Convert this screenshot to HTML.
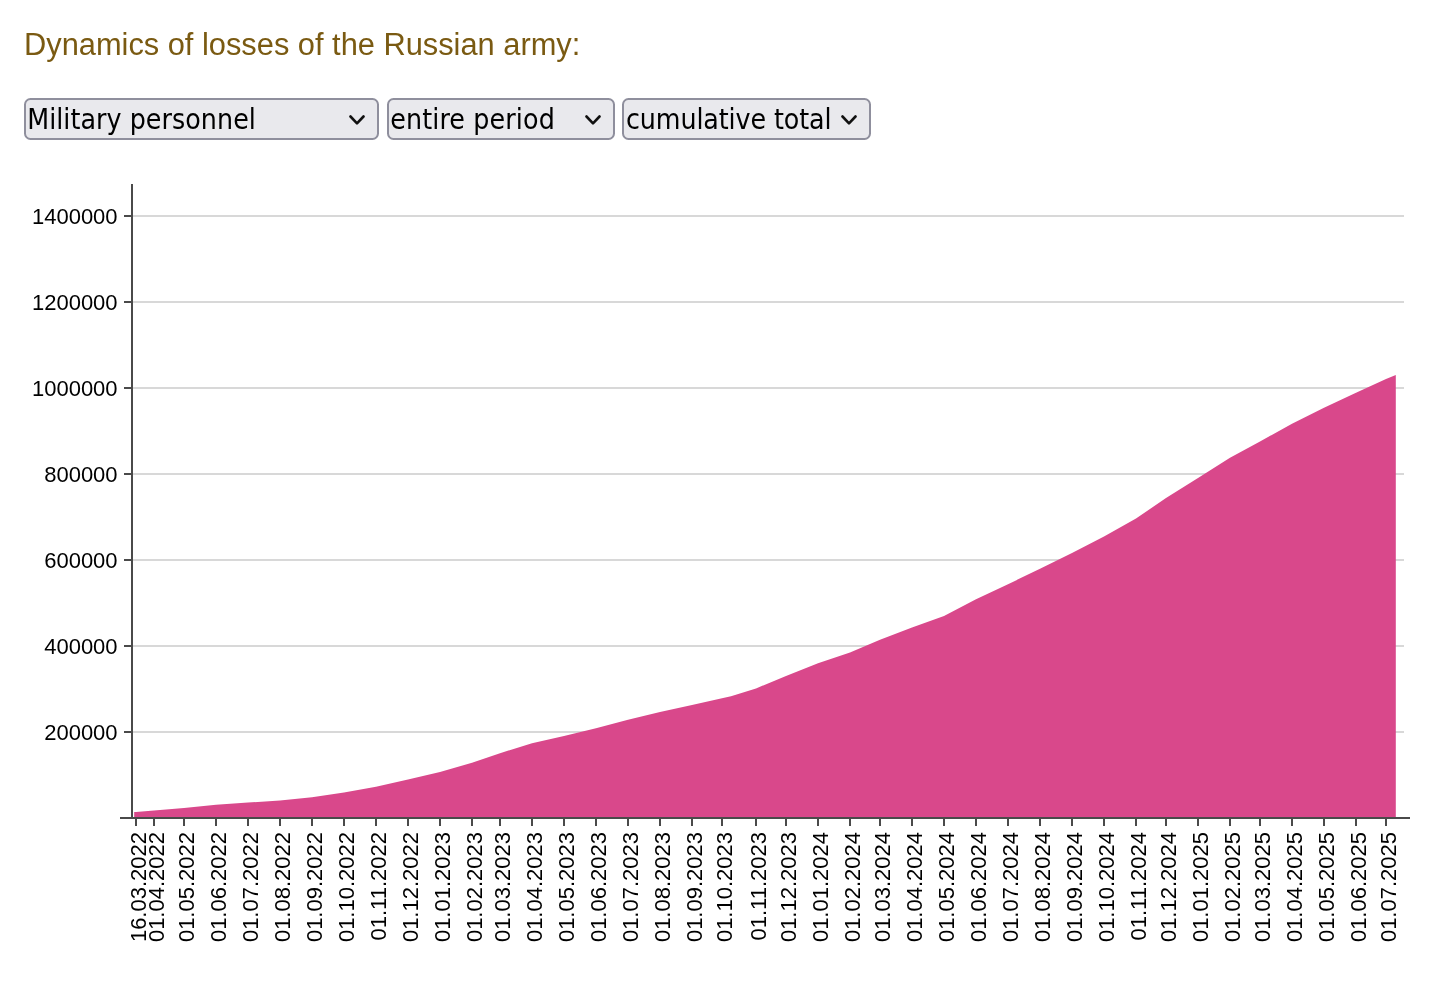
<!DOCTYPE html>
<html lang="en"><head><meta charset="utf-8"><title>Dynamics of losses of the Russian army</title>
<style>
html,body{margin:0;padding:0;background:#fff;}
body{width:1435px;height:987px;position:relative;overflow:hidden;font-family:"Liberation Sans",Arial,sans-serif;}
h2{position:absolute;left:24px;top:27.8px;margin:0;font-weight:normal;font-size:30.8px;line-height:34px;color:#7a5a12;white-space:nowrap;}
.sel{position:absolute;top:98px;height:42px;}
.sel select{display:block;width:100%;height:42px;box-sizing:border-box;margin:0;padding:1px 0 0 1.2px;-webkit-appearance:none;appearance:none;outline:none;
 border:2px solid #8f8f9d;border-radius:6.5px;background:#e9e9ed;color:#000;
 font-family:"DejaVu Sans Condensed","DejaVu Sans","Liberation Sans",sans-serif;font-stretch:condensed;font-size:28.2px;line-height:38px;white-space:nowrap;}
.sel svg{position:absolute;top:17px;width:16px;height:10px;pointer-events:none;}
svg.chart{position:absolute;left:0;top:0;}
svg.chart text{font-family:"Liberation Sans",Arial,sans-serif;font-size:22px;fill:#000;}
</style></head><body>
<h2>Dynamics of losses of the Russian army:</h2>
<div class="sel" style="left:24px;width:355px;"><select style="letter-spacing:0.06px"><option selected>Military personnel</option></select><svg style="left:324.7px" viewBox="0 0 16 10"><path d="M1.5 1.5 L8 8.3 L14.5 1.5" fill="none" stroke="#111" stroke-width="2.6" stroke-linecap="round" stroke-linejoin="round"/></svg></div>
<div class="sel" style="left:387px;width:228px;"><select style="letter-spacing:0.14px"><option selected>entire period</option></select><svg style="left:198px" viewBox="0 0 16 10"><path d="M1.5 1.5 L8 8.3 L14.5 1.5" fill="none" stroke="#111" stroke-width="2.6" stroke-linecap="round" stroke-linejoin="round"/></svg></div>
<div class="sel" style="left:622px;width:248.6px;"><select style="letter-spacing:-0.1px;padding-left:2px"><option selected>cumulative total</option></select><svg style="left:219.1px" viewBox="0 0 16 10"><path d="M1.5 1.5 L8 8.3 L14.5 1.5" fill="none" stroke="#111" stroke-width="2.6" stroke-linecap="round" stroke-linejoin="round"/></svg></div>
<svg class="chart" width="1435" height="987" viewBox="0 0 1435 987">
<g stroke="#d8d8d8" stroke-width="2"><line x1="132" x2="1404" y1="732.0" y2="732.0"/><line x1="132" x2="1404" y1="646.0" y2="646.0"/><line x1="132" x2="1404" y1="560.0" y2="560.0"/><line x1="132" x2="1404" y1="474.0" y2="474.0"/><line x1="132" x2="1404" y1="388.0" y2="388.0"/><line x1="132" x2="1404" y1="302.0" y2="302.0"/><line x1="132" x2="1404" y1="216.0" y2="216.0"/></g>
<path d="M134.2,818.0 L134.2,812.1 L136.0,812.1 L154.0,810.4 L184.0,807.9 L216.0,804.8 L248.0,802.6 L280.0,800.4 L312.0,797.2 L344.0,792.4 L376.0,786.8 L408.0,779.5 L440.0,772.1 L472.0,762.8 L500.0,753.2 L532.0,743.2 L564.0,735.9 L596.0,728.2 L628.0,719.8 L660.0,711.9 L692.0,704.9 L722.0,698.2 L731.0,696.2 L756.0,688.4 L786.0,676.1 L818.0,663.2 L850.0,652.4 L880.0,639.7 L912.0,627.6 L944.0,616.0 L976.0,599.2 L1008.0,584.2 L1040.0,568.8 L1072.0,553.0 L1104.0,536.6 L1136.0,518.5 L1166.0,498.1 L1198.0,478.0 L1230.0,457.8 L1260.0,441.5 L1292.0,423.7 L1324.0,407.8 L1356.0,392.7 L1386.0,379.0 L1395.8,374.9 L1395.8,818.0 Z" fill="#d9488b"/>
<g stroke="#4a4a4a" stroke-width="2" fill="none"><line x1="132" x2="132" y1="184" y2="818"/><line x1="120" x2="1410" y1="818" y2="818"/><line x1="124" x2="132" y1="732.0" y2="732.0"/><line x1="124" x2="132" y1="646.0" y2="646.0"/><line x1="124" x2="132" y1="560.0" y2="560.0"/><line x1="124" x2="132" y1="474.0" y2="474.0"/><line x1="124" x2="132" y1="388.0" y2="388.0"/><line x1="124" x2="132" y1="302.0" y2="302.0"/><line x1="124" x2="132" y1="216.0" y2="216.0"/><line x1="136" x2="136" y1="818" y2="826"/><line x1="154" x2="154" y1="818" y2="826"/><line x1="184" x2="184" y1="818" y2="826"/><line x1="216" x2="216" y1="818" y2="826"/><line x1="248" x2="248" y1="818" y2="826"/><line x1="280" x2="280" y1="818" y2="826"/><line x1="312" x2="312" y1="818" y2="826"/><line x1="344" x2="344" y1="818" y2="826"/><line x1="376" x2="376" y1="818" y2="826"/><line x1="408" x2="408" y1="818" y2="826"/><line x1="440" x2="440" y1="818" y2="826"/><line x1="472" x2="472" y1="818" y2="826"/><line x1="500" x2="500" y1="818" y2="826"/><line x1="532" x2="532" y1="818" y2="826"/><line x1="564" x2="564" y1="818" y2="826"/><line x1="596" x2="596" y1="818" y2="826"/><line x1="628" x2="628" y1="818" y2="826"/><line x1="660" x2="660" y1="818" y2="826"/><line x1="692" x2="692" y1="818" y2="826"/><line x1="722" x2="722" y1="818" y2="826"/><line x1="756" x2="756" y1="818" y2="826"/><line x1="786" x2="786" y1="818" y2="826"/><line x1="818" x2="818" y1="818" y2="826"/><line x1="850" x2="850" y1="818" y2="826"/><line x1="880" x2="880" y1="818" y2="826"/><line x1="912" x2="912" y1="818" y2="826"/><line x1="944" x2="944" y1="818" y2="826"/><line x1="976" x2="976" y1="818" y2="826"/><line x1="1008" x2="1008" y1="818" y2="826"/><line x1="1040" x2="1040" y1="818" y2="826"/><line x1="1072" x2="1072" y1="818" y2="826"/><line x1="1104" x2="1104" y1="818" y2="826"/><line x1="1136" x2="1136" y1="818" y2="826"/><line x1="1166" x2="1166" y1="818" y2="826"/><line x1="1198" x2="1198" y1="818" y2="826"/><line x1="1230" x2="1230" y1="818" y2="826"/><line x1="1260" x2="1260" y1="818" y2="826"/><line x1="1292" x2="1292" y1="818" y2="826"/><line x1="1324" x2="1324" y1="818" y2="826"/><line x1="1356" x2="1356" y1="818" y2="826"/><line x1="1386" x2="1386" y1="818" y2="826"/></g>
<g text-anchor="end"><text x="117.6" y="739.6">200000</text><text x="117.6" y="653.6">400000</text><text x="117.6" y="567.6">600000</text><text x="117.6" y="481.6">800000</text><text x="117.6" y="395.6">1000000</text><text x="117.6" y="309.6">1200000</text><text x="117.6" y="223.6">1400000</text></g>
<g text-anchor="end"><text transform="translate(146.2,832.0) rotate(-90)">16.03.2022</text><text transform="translate(164.2,832.0) rotate(-90)">01.04.2022</text><text transform="translate(194.2,832.0) rotate(-90)">01.05.2022</text><text transform="translate(226.2,832.0) rotate(-90)">01.06.2022</text><text transform="translate(258.1,832.0) rotate(-90)">01.07.2022</text><text transform="translate(290.1,832.0) rotate(-90)">01.08.2022</text><text transform="translate(322.1,832.0) rotate(-90)">01.09.2022</text><text transform="translate(354.1,832.0) rotate(-90)">01.10.2022</text><text transform="translate(386.1,832.0) rotate(-90)">01.11.2022</text><text transform="translate(418.1,832.0) rotate(-90)">01.12.2022</text><text transform="translate(450.1,832.0) rotate(-90)">01.01.2023</text><text transform="translate(482.1,832.0) rotate(-90)">01.02.2023</text><text transform="translate(510.1,832.0) rotate(-90)">01.03.2023</text><text transform="translate(542.1,832.0) rotate(-90)">01.04.2023</text><text transform="translate(574.1,832.0) rotate(-90)">01.05.2023</text><text transform="translate(606.1,832.0) rotate(-90)">01.06.2023</text><text transform="translate(638.1,832.0) rotate(-90)">01.07.2023</text><text transform="translate(670.1,832.0) rotate(-90)">01.08.2023</text><text transform="translate(702.1,832.0) rotate(-90)">01.09.2023</text><text transform="translate(732.1,832.0) rotate(-90)">01.10.2023</text><text transform="translate(766.1,832.0) rotate(-90)">01.11.2023</text><text transform="translate(796.1,832.0) rotate(-90)">01.12.2023</text><text transform="translate(828.1,832.0) rotate(-90)">01.01.2024</text><text transform="translate(860.1,832.0) rotate(-90)">01.02.2024</text><text transform="translate(890.1,832.0) rotate(-90)">01.03.2024</text><text transform="translate(922.1,832.0) rotate(-90)">01.04.2024</text><text transform="translate(954.1,832.0) rotate(-90)">01.05.2024</text><text transform="translate(986.1,832.0) rotate(-90)">01.06.2024</text><text transform="translate(1018.1,832.0) rotate(-90)">01.07.2024</text><text transform="translate(1050.2,832.0) rotate(-90)">01.08.2024</text><text transform="translate(1082.2,832.0) rotate(-90)">01.09.2024</text><text transform="translate(1114.2,832.0) rotate(-90)">01.10.2024</text><text transform="translate(1146.2,832.0) rotate(-90)">01.11.2024</text><text transform="translate(1176.2,832.0) rotate(-90)">01.12.2024</text><text transform="translate(1208.2,832.0) rotate(-90)">01.01.2025</text><text transform="translate(1240.2,832.0) rotate(-90)">01.02.2025</text><text transform="translate(1270.2,832.0) rotate(-90)">01.03.2025</text><text transform="translate(1302.2,832.0) rotate(-90)">01.04.2025</text><text transform="translate(1334.2,832.0) rotate(-90)">01.05.2025</text><text transform="translate(1366.2,832.0) rotate(-90)">01.06.2025</text><text transform="translate(1396.2,832.0) rotate(-90)">01.07.2025</text></g>
</svg>
</body></html>
